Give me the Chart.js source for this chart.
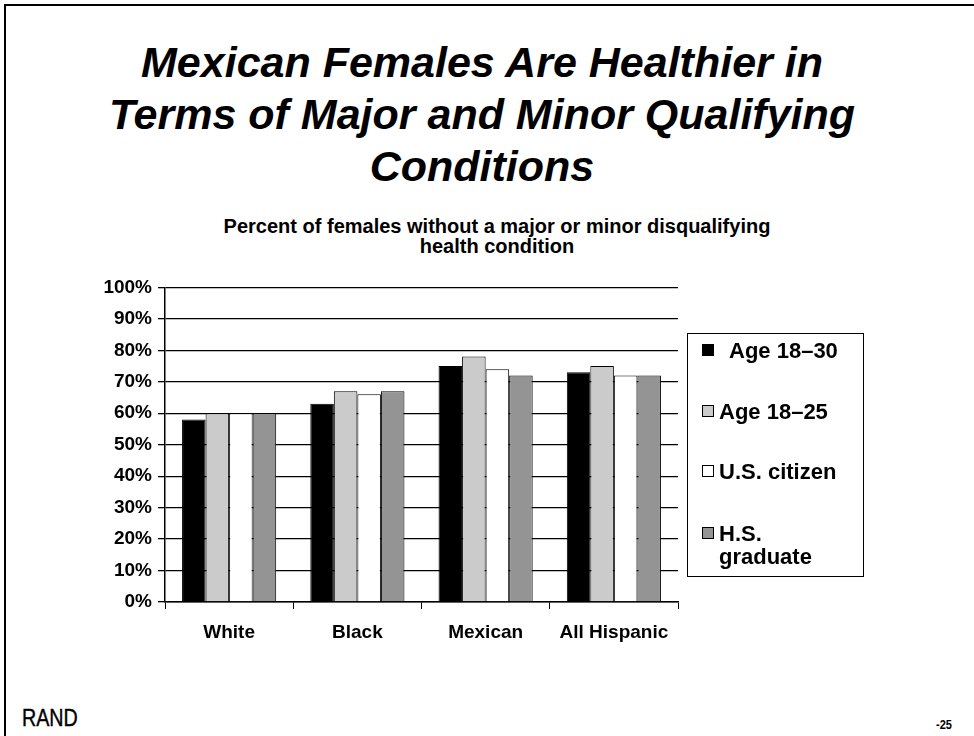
<!DOCTYPE html>
<html>
<head>
<meta charset="utf-8">
<script src="https://cdn.jsdelivr.net/npm/chart.js@4.4.1/dist/chart.umd.min.js"></script>
<style>
  html, body { margin: 0; padding: 0; background: #fff; }
  body { width: 974px; height: 736px; position: relative; overflow: hidden; font-family: "Liberation Sans", Arial, sans-serif; }
  #frame { position: absolute; left: 4px; top: 4px; width: 1000px; height: 800px; border-left: 2px solid #000; border-top: 2px solid #000; }
  #title { position: absolute; left: 82px; width: 800px; top: 36px; text-align: center; font-size: 43px; line-height: 52px; font-weight: bold; font-style: italic; }
  #subtitle { position: absolute; left: 147px; width: 700px; top: 216px; text-align: center; font-size: 20px; line-height: 20px; font-weight: bold; }
  #rand { position: absolute; left: 22px; top: 704px; font-size: 24px; transform: scaleX(0.82); transform-origin: left top; -webkit-text-stroke: 0.4px #000; }
  #page { position: absolute; left: 936px; top: 717px; font-weight: bold; font-size: 13px; transform: scaleX(0.85); transform-origin: left top; }
  #wrap { position: absolute; left: 0; top: 270px; width: 974px; height: 380px; }
  canvas { display: block; }
</style>
</head>
<body>
<div id="frame"></div>
<div id="title">Mexican Females Are Healthier in<br>Terms of Major and Minor Qualifying<br>Conditions</div>
<div id="subtitle">Percent of females without a major or minor disqualifying<br>health condition</div>
<div id="wrap"><canvas id="grafico" width="974" height="380"></canvas></div>
<div id="rand">RAND</div>
<div id="page">-25</div>

<script>
// dados
const grupos = ['White', 'Black', 'Mexican', 'All Hispanic'];
const idade1830 = [58, 63, 75, 73];
const idade1825 = [60, 67, 78, 75];
const cidadao = [60, 66, 74, 72];
const diplomado = [60, 67, 72, 72];
const ticksY = [0, 10, 20, 30, 40, 50, 60, 70, 80, 90, 100];

const nomesSeries = ['Age 18–30', 'Age 18–25', 'U.S. citizen', 'H.S. graduate'];
const linhasLegenda = [['Age 18–30'], ['Age 18–25'], ['U.S. citizen'], ['H.S.', 'graduate']];

Chart.defaults.font.family = '"Liberation Sans", Arial, sans-serif';
Chart.defaults.color = '#000';

function serie(nome, valores, cor) {
  return {
    label: nome,
    data: valores,
    backgroundColor: cor,
    borderColor: '#000',
    borderWidth: 1,
    borderSkipped: 'bottom',
    categoryPercentage: 0.734,
    barPercentage: 1.0
  };
}

// legenda desenhada à mão, como no slide original
const legendaCaixa = {
  id: 'legendaCaixa',
  afterDraw(chart) {
    const ctx = chart.ctx;
    ctx.save();
    ctx.strokeStyle = '#000';
    ctx.lineWidth = 1;
    ctx.strokeRect(687.5, 63.5, 176, 243);
    ctx.font = 'bold 22px "Liberation Sans", Arial, sans-serif';
    ctx.textBaseline = 'alphabetic';
    const bases = [88, 149, 209, 271];
    chart.data.datasets.forEach((ds, i) => {
      const b = bases[i];
      ctx.fillStyle = ds.backgroundColor;
      ctx.fillRect(702, b - 14, 12, 12);
      ctx.strokeRect(702.5, b - 13.5, 11, 11);
      ctx.fillStyle = '#000';
      linhasLegenda[i].forEach((t, j) => {
        ctx.fillText(t, i === 0 ? 729 : 719, b + j * 23);
      });
    });
    ctx.restore();
  }
};

const ctx = document.getElementById('grafico').getContext('2d');
new Chart(ctx, {
  type: 'bar',
  data: {
    labels: grupos,
    datasets: [
      serie(nomesSeries[0], idade1830, '#000000'),
      serie(nomesSeries[1], idade1825, '#cbcbcb'),
      serie(nomesSeries[2], cidadao, '#ffffff'),
      serie(nomesSeries[3], diplomado, '#949494')
    ]
  },
  options: {
    responsive: false,
    animation: false,
    devicePixelRatio: 1,
    layout: { padding: { left: 0, top: 15, right: 296, bottom: 0 } },
    plugins: {
      legend: { display: false },
      tooltip: { enabled: false }
    },
    scales: {
      x: {
        grid: { display: true, drawOnChartArea: false, drawTicks: true, tickLength: 7, color: '#000', lineWidth: 1, offset: true },
        border: { display: true, color: '#000', width: 1.5 },
        ticks: { font: { size: 19, weight: 'bold' }, padding: 12, maxRotation: 0, autoSkip: false },
        afterFit(scale) { scale.height = 48; }
      },
      y: {
        min: 0,
        max: 100,
        afterBuildTicks(scale) { scale.ticks = ticksY.map(v => ({ value: v })); },
        grid: { color: '#000', lineWidth: 1.3, tickLength: 7 },
        border: { display: true, color: '#000', width: 1.5 },
        ticks: { font: { size: 19, weight: 'bold' }, padding: 6, callback: v => v + '%' },
        afterFit(scale) { scale.width = 165; }
      }
    }
  },
  plugins: [legendaCaixa]
});
</script>
</body>
</html>
